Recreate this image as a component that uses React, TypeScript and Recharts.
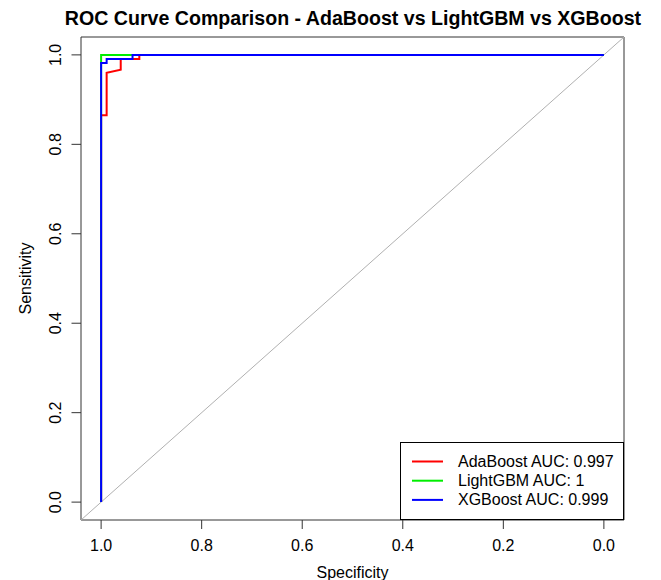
import { LineChart, Line, XAxis, YAxis, ReferenceLine, ReferenceArea, Legend } from 'recharts';

const FONT = '"Liberation Sans", Arial, Helvetica, sans-serif';

// axis ticks (specificity is drawn reversed, 1.0 on the left)
const axisTicks = [0, 0.2, 0.4, 0.6, 0.8, 1];

// ROC points: specificity / sensitivity pairs
const adaSpec = [1, 1, 0.989, 0.989, 0.961, 0.961, 0.924, 0.924, 0];
const adaSens = [0, 0.865, 0.865, 0.96, 0.967, 0.991, 0.991, 1, 1];

const lgbSpec = [1, 1, 0.9375, 0];
const lgbSens = [0, 1, 1, 1];

const xgbSpec = [1, 1, 0.989, 0.989, 0.9375, 0.9375, 0];
const xgbSens = [0, 0.982, 0.982, 0.991, 0.991, 1, 1];

const seriesNames = ['AdaBoost AUC: 0.997', 'LightGBM AUC: 1', 'XGBoost AUC: 0.999'];
const seriesColors = ['#ff0000', '#00ee00', '#0000ff'];

const toRows = (spec: number[], sens: number[]) => spec.map((s, i) => ({ spec: s, sens: sens[i] }));

const YTick = ({ x, y, payload }: any) => (
    <text
        x={x}
        y={y}
        transform={`rotate(-90, ${x}, ${y})`}
        textAnchor="middle"
        fill="#000"
        fontSize={16}
        fontFamily={FONT}
    >
        {Number(payload.value).toFixed(1)}
    </text>
);

const XTick = ({ x, y, payload }: any) => (
    <text x={x} y={y + 20} textAnchor="middle" fill="#000" fontSize={16} fontFamily={FONT}>
        {Number(payload.value).toFixed(1)}
    </text>
);

const LegendBox = () => (
    <svg width={224} height={78} style={{ display: 'block' }}>
        <rect x={0.5} y={0.5} width={223} height={77} fill="#fff" stroke="#000" strokeWidth={1} />
        {seriesNames.map((name, i) => (
            <g key={name}>
                <line x1={12} x2={43} y1={19.5 + i * 19.2} y2={19.5 + i * 19.2} stroke={seriesColors[i]} strokeWidth={2} />
                <text x={58} y={25 + i * 19.2} fontSize={16} fontFamily={FONT} fill="#000">
                    {name}
                </text>
            </g>
        ))}
    </svg>
);

export default function App() {
    const ada = toRows(adaSpec, adaSens);
    const lgb = toRows(lgbSpec, lgbSens);
    const xgb = toRows(xgbSpec, xgbSens);

    return (
        <div style={{ position: 'absolute', left: 0, top: 0, width: 661, height: 580, background: '#fff', fontFamily: FONT }}>
            <div
                style={{
                    position: 'absolute',
                    left: 353,
                    top: 6,
                    transform: 'translateX(-50%)',
                    whiteSpace: 'nowrap',
                    fontWeight: 'bold',
                    fontSize: 19.6,
                    lineHeight: '24px',
                    color: '#000'
                }}
            >
                ROC Curve Comparison - AdaBoost vs LightGBM vs XGBoost
            </div>
            <LineChart width={661} height={580} margin={{ top: 37, right: 37, left: 21, bottom: 10 }}>
                <XAxis
                    type="number"
                    dataKey="spec"
                    domain={[-0.04, 1.04]}
                    reversed
                    ticks={axisTicks}
                    allowDataOverflow
                    height={50}
                    axisLine={false}
                    tickSize={9}
                    tickLine={{ stroke: '#333' }}
                    tick={<XTick />}
                    label={({ viewBox }: any) => (
                        <text
                            x={viewBox.x + viewBox.width / 2}
                            y={viewBox.y + 58}
                            textAnchor="middle"
                            fontSize={16}
                            fontFamily={FONT}
                            fill="#000"
                        >
                            Specificity
                        </text>
                    )}
                />
                <YAxis
                    type="number"
                    dataKey="sens"
                    domain={[-0.04, 1.04]}
                    ticks={axisTicks}
                    allowDataOverflow
                    width={60}
                    axisLine={false}
                    tickSize={9.5}
                    tickMargin={10}
                    tickLine={{ stroke: '#333' }}
                    tick={<YTick />}
                    label={({ viewBox }: any) => {
                        const cx = viewBox.x + 10;
                        const cy = viewBox.y + viewBox.height / 2;
                        return (
                            <text
                                x={cx}
                                y={cy}
                                transform={`rotate(-90, ${cx}, ${cy})`}
                                textAnchor="middle"
                                fontSize={16}
                                fontFamily={FONT}
                                fill="#000"
                            >
                                Sensitivity
                            </text>
                        );
                    }}
                />
                <ReferenceLine
                    segment={[{ x: 1.04, y: -0.04 }, { x: -0.04, y: 1.04 }]}
                    stroke="#b0b0b0"
                    strokeWidth={1}
                />
                <Line data={ada} dataKey="sens" name={seriesNames[0]} type="linear" stroke={seriesColors[0]} strokeWidth={2} dot={false} isAnimationActive={false} />
                <Line data={lgb} dataKey="sens" name={seriesNames[1]} type="linear" stroke={seriesColors[1]} strokeWidth={2} dot={false} isAnimationActive={false} />
                <Line data={xgb} dataKey="sens" name={seriesNames[2]} type="linear" stroke={seriesColors[2]} strokeWidth={2} dot={false} isAnimationActive={false} />
                <ReferenceArea x1={-0.04} x2={1.04} y1={-0.04} y2={1.04} fill="none" fillOpacity={0} stroke="#333" strokeWidth={1} />
                <Legend
                    layout="vertical"
                    align="center"
                    verticalAlign="middle"
                    content={<LegendBox />}
                    wrapperStyle={{ position: 'absolute', left: 400, top: 442, width: 224, height: 78 }}
                />
            </LineChart>
        </div>
    );
}
